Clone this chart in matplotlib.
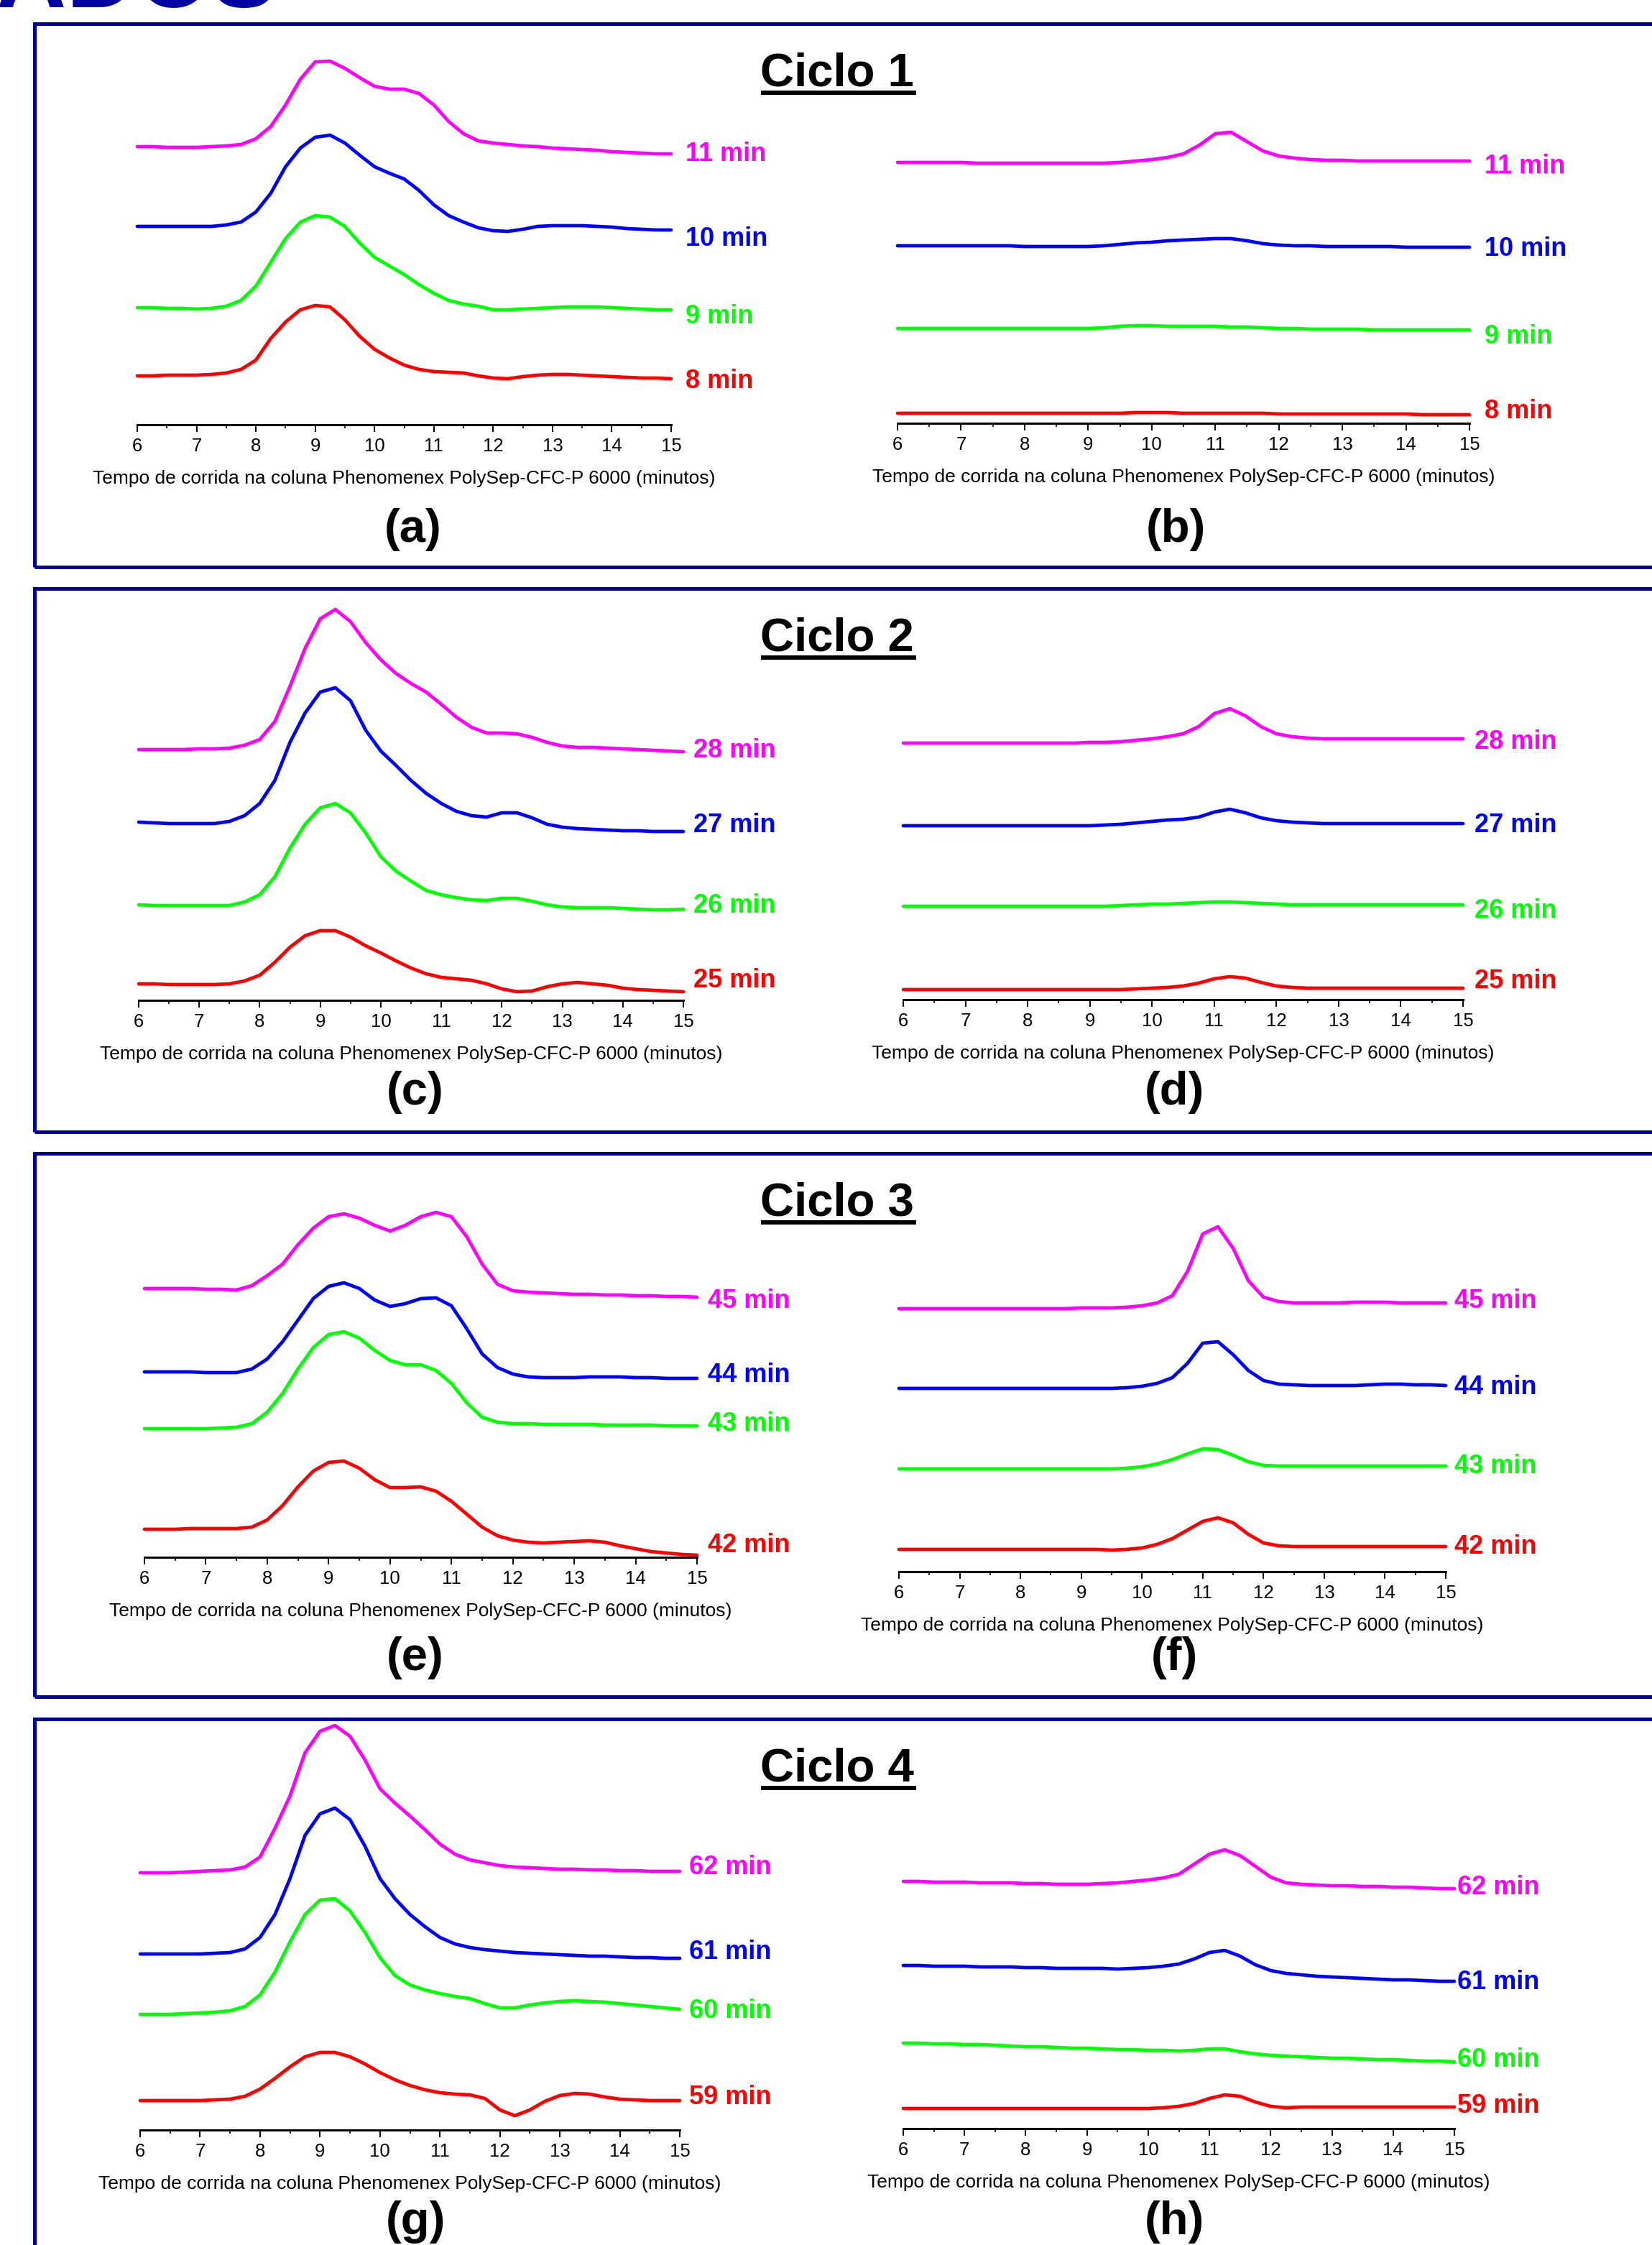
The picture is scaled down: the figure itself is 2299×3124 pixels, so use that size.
import numpy as np
import matplotlib
matplotlib.use('Agg')
import matplotlib.pyplot as plt
from matplotlib.patches import Rectangle
from matplotlib.lines import Line2D
from matplotlib.ticker import MultipleLocator

plt.rcParams['font.family'] = ['Liberation Sans', 'DejaVu Sans']

W, H = 2299, 3124

# tempo de corrida (minutos), amostrado a cada 0.25 min
tempo = np.arange(6, 15.001, 0.25)

# sinais (altura acima do eixo, unidades arbitrarias)
a_11 = [387, 387, 386, 386, 386, 387, 388, 390, 398, 415, 445, 481, 505, 506, 496, 483, 471, 467, 467, 461,
        445, 422, 405, 395, 392, 390, 388, 387, 385, 384, 383, 382, 380, 379, 378, 377, 377]
a_10 = [276, 276, 276, 276, 276, 276, 278, 282, 296, 322, 359, 385, 400, 403, 392, 375, 359, 350, 342, 326,
        306, 291, 282, 274, 270, 269, 272, 276, 277, 277, 277, 276, 275, 273, 272, 271, 271]
a_9 = [163, 163, 162, 162, 161, 162, 165, 173, 193, 226, 259, 282, 291, 289, 276, 253, 233, 221, 209, 195,
       183, 173, 168, 165, 160, 160, 161, 162, 163, 164, 164, 164, 163, 162, 161, 160, 160]
a_8 = [68, 68, 69, 69, 69, 70, 72, 77, 90, 120, 143, 160, 166, 164, 146, 123, 105, 93, 83, 77,
       74, 73, 72, 68, 65, 64, 67, 69, 70, 70, 69, 68, 67, 66, 65, 65, 64]

b_11 = [363, 363, 363, 363, 363, 362, 362, 362, 362, 362, 362, 362, 362, 362, 363, 365, 367, 370, 375, 387,
        403, 405, 392, 379, 372, 369, 367, 366, 366, 365, 365, 365, 365, 365, 365, 365, 365]
b_10 = [247, 247, 247, 247, 247, 247, 247, 247, 246, 246, 246, 246, 246, 247, 249, 251, 252, 254, 255, 256,
        257, 257, 254, 250, 248, 247, 247, 246, 246, 246, 246, 246, 245, 245, 245, 245, 245]
b_9 = [132, 132, 132, 132, 132, 132, 132, 132, 132, 132, 132, 132, 132, 133, 135, 136, 136, 135, 135, 135,
       135, 134, 134, 133, 132, 132, 131, 131, 131, 131, 130, 130, 130, 130, 130, 130, 130]
b_8 = [14, 14, 14, 14, 14, 14, 14, 14, 14, 14, 14, 14, 14, 14, 14, 15, 15, 15, 14, 14,
       14, 14, 14, 14, 13, 13, 13, 13, 13, 13, 13, 13, 13, 12, 12, 12, 12]

c_28 = [349, 349, 349, 349, 350, 350, 351, 355, 363, 388, 437, 490, 531, 544, 527, 498, 474, 455, 441, 429,
        412, 394, 380, 372, 372, 371, 366, 359, 354, 352, 352, 351, 350, 349, 348, 347, 346]
c_27 = [248, 247, 246, 246, 246, 246, 249, 257, 274, 306, 359, 400, 429, 435, 417, 376, 347, 327, 306, 288,
        274, 263, 257, 255, 261, 261, 254, 245, 241, 239, 238, 237, 236, 236, 235, 235, 235]
c_26 = [133, 132, 132, 132, 132, 132, 132, 137, 147, 172, 212, 245, 268, 274, 261, 233, 200, 180, 166, 153,
        147, 143, 140, 139, 142, 142, 138, 133, 130, 129, 129, 129, 128, 127, 126, 126, 127]
c_25 = [23, 23, 22, 22, 22, 22, 23, 27, 35, 53, 74, 90, 97, 97, 88, 76, 66, 55, 45, 37,
        32, 30, 28, 23, 16, 12, 13, 19, 23, 25, 23, 21, 17, 15, 14, 13, 12]

d_28 = [357, 357, 357, 357, 357, 357, 357, 357, 357, 357, 357, 357, 358, 358, 359, 361, 363, 366, 370, 380,
        398, 405, 395, 380, 370, 366, 364, 363, 363, 363, 363, 363, 363, 363, 363, 363, 363]
d_27 = [242, 242, 242, 242, 242, 242, 242, 242, 242, 242, 242, 242, 242, 243, 244, 246, 248, 250, 251, 254,
        261, 265, 260, 253, 249, 247, 246, 245, 245, 245, 245, 245, 245, 245, 245, 245, 245]
d_26 = [130, 130, 130, 130, 130, 130, 130, 130, 130, 130, 130, 130, 130, 130, 131, 132, 133, 133, 134, 135,
        136, 136, 135, 134, 133, 132, 132, 132, 132, 132, 132, 132, 132, 132, 132, 132, 132]
d_25 = [14, 14, 14, 14, 14, 14, 14, 14, 14, 14, 14, 14, 14, 14, 14, 15, 16, 17, 19, 23,
        29, 32, 30, 24, 19, 17, 16, 16, 16, 16, 16, 16, 16, 16, 16, 16, 16]

e_45 = [374, 374, 374, 374, 373, 373, 372, 378, 392, 408, 435, 458, 474, 478, 472, 462, 454, 462, 474, 480,
        474, 446, 408, 380, 371, 369, 368, 367, 366, 366, 365, 365, 364, 364, 363, 363, 362]
e_44 = [258, 258, 258, 258, 257, 257, 257, 262, 276, 300, 330, 360, 377, 382, 374, 358, 349, 353, 360, 361,
        350, 318, 283, 264, 255, 251, 250, 250, 250, 251, 251, 251, 250, 250, 249, 249, 249]
e_43 = [179, 179, 179, 179, 179, 180, 181, 186, 202, 228, 262, 292, 310, 314, 305, 288, 274, 268, 268, 260,
        242, 215, 195, 188, 186, 186, 185, 185, 185, 185, 184, 184, 184, 184, 183, 183, 183]
e_42 = [39, 39, 39, 40, 40, 40, 40, 42, 52, 72, 98, 120, 132, 134, 124, 108, 97, 97, 98, 92,
        78, 60, 42, 30, 24, 21, 20, 21, 22, 23, 21, 16, 12, 8, 6, 4, 3]

f_45 = [366, 366, 366, 366, 366, 366, 366, 366, 366, 366, 366, 366, 367, 367, 367, 368, 370, 374, 384, 418,
        470, 480, 450, 405, 382, 376, 374, 374, 374, 374, 375, 375, 375, 374, 374, 374, 374]
f_44 = [255, 255, 255, 255, 255, 255, 255, 255, 255, 255, 255, 255, 255, 255, 255, 256, 258, 262, 270, 290,
        318, 320, 302, 280, 266, 261, 260, 259, 259, 259, 259, 260, 261, 261, 260, 260, 259]
f_43 = [143, 143, 143, 143, 143, 143, 143, 143, 143, 143, 143, 143, 143, 143, 143, 144, 146, 150, 156, 164,
        171, 170, 162, 153, 148, 147, 147, 147, 147, 147, 147, 147, 147, 147, 147, 147, 147]
f_42 = [31, 31, 31, 31, 31, 31, 31, 31, 31, 31, 31, 31, 31, 31, 30, 31, 33, 38, 46, 58,
        70, 75, 68, 52, 40, 36, 35, 35, 35, 35, 35, 35, 35, 35, 35, 35, 35]

g_62 = [358, 358, 358, 359, 360, 361, 362, 366, 380, 420, 465, 525, 555, 563, 548, 515, 475, 455, 437, 418,
        398, 384, 376, 372, 368, 366, 365, 364, 363, 363, 362, 362, 361, 361, 360, 360, 360]
g_61 = [245, 245, 245, 245, 245, 246, 247, 252, 268, 300, 350, 410, 440, 448, 432, 395, 350, 322, 300, 283,
        268, 259, 254, 251, 249, 247, 246, 245, 244, 243, 242, 242, 241, 240, 240, 239, 239]
g_60 = [161, 161, 161, 162, 163, 164, 166, 172, 188, 220, 262, 300, 320, 322, 305, 275, 240, 215, 202, 195,
        190, 186, 183, 176, 170, 170, 174, 177, 179, 180, 179, 178, 176, 174, 172, 170, 168]
g_59 = [41, 41, 41, 41, 41, 42, 43, 47, 57, 72, 88, 102, 108, 108, 102, 92, 80, 70, 62, 56,
        52, 50, 49, 44, 28, 20, 28, 40, 48, 51, 50, 46, 43, 42, 41, 41, 41]

h_62 = [344, 344, 343, 343, 343, 342, 342, 342, 341, 341, 340, 340, 340, 341, 342, 344, 346, 349, 354, 368,
        382, 388, 380, 365, 350, 342, 340, 339, 338, 338, 337, 337, 336, 336, 335, 334, 334]
h_61 = [227, 227, 226, 226, 226, 225, 225, 225, 224, 224, 223, 223, 223, 223, 222, 223, 224, 226, 229, 236,
        245, 248, 240, 228, 220, 216, 214, 212, 211, 210, 209, 208, 207, 207, 206, 205, 205]
h_60 = [119, 119, 118, 118, 117, 117, 116, 115, 114, 114, 113, 112, 112, 111, 110, 110, 109, 109, 108, 109,
        111, 111, 107, 104, 102, 101, 100, 99, 98, 98, 97, 96, 96, 95, 94, 94, 93]
h_59 = [28, 28, 28, 28, 28, 28, 28, 28, 28, 28, 28, 28, 28, 28, 28, 28, 28, 29, 31, 35,
        42, 47, 45, 37, 31, 29, 30, 30, 30, 30, 30, 30, 30, 30, 30, 30, 30]

cores = ['#FF00FF', '#0000FF', '#00FF00', '#FF0000']

# painel: (letra, x do 6, x do 15, y do eixo, curvas, rotulos, alturas dos rotulos, x dos rotulos)
paineis = [
    ('a', 191, 934, 591, [a_11, a_10, a_9, a_8], ['11 min', '10 min', '9 min', '8 min'], [377, 259, 151, 60], 15.24),
    ('b', 1249, 2045, 589, [b_11, b_10, b_9, b_8], ['11 min', '10 min', '9 min', '8 min'], [357, 242, 121, 16], 15.24),
    ('c', 193, 951, 1392, [c_28, c_27, c_26, c_25], ['28 min', '27 min', '26 min', '25 min'], [347, 243, 131, 27], 15.17),
    ('d', 1257, 2036, 1391, [d_28, d_27, d_26, d_25], ['28 min', '27 min', '26 min', '25 min'], [359, 243, 124, 26], 15.18),
    ('e', 201, 970, 2167, [e_45, e_44, e_43, e_42], ['45 min', '44 min', '43 min', '42 min'], [356, 253, 185, 17], 15.17),
    ('f', 1251, 2012, 2187, [f_45, f_44, f_43, f_42], ['45 min', '44 min', '43 min', '42 min'], [376, 257, 147, 35], 15.14),
    ('g', 195, 946, 2964, [g_62, g_61, g_60, g_59], ['62 min', '61 min', '60 min', '59 min'], [366, 247, 165, 45], 15.15),
    ('h', 1257, 2024, 2962, [h_62, h_61, h_60, h_59], ['62 min', '61 min', '60 min', '59 min'], [336, 203, 95, 31], 15.05),
]

letra_pos = {'a': (575, 737), 'b': (1636, 737), 'c': (578, 1520), 'd': (1634, 1520),
             'e': (578, 2307), 'f': (1634, 2307), 'g': (578, 3092), 'h': (1634, 3092)}

TOPO = 600

fig = plt.figure(figsize=(W / 100, H / 100), dpi=100)

# molduras azuis de cada ciclo
for topo, base in [(33, 788.5), (819, 1574.5), (1604.5, 2360.5), (2391.5, 3300)]:
    fig.add_artist(Rectangle((48 / W, 1 - base / H), 3000 / W, (base - topo) / H, transform=fig.transFigure,
                             fill=False, edgecolor='#00009C', linewidth=3.6))

# titulo da secao, cortado no topo como no original
fig.text(384 / W, 1 - 10 / H, 'RESULTADOS', ha='right', va='baseline', fontsize=97,
         fontweight='bold', color='#0000A0')

for i, topo in enumerate([33, 819, 1604.5, 2391.5]):
    fig.text(1165 / W, 1 - (topo + 87) / H, 'Ciclo %d' % (i + 1), ha='center', va='baseline',
             fontsize=47, fontweight='bold')
    yl = 1 - (topo + 96) / H
    fig.add_artist(Line2D([1062 / W, 1272 / W], [yl, yl], transform=fig.transFigure, color='black', linewidth=4.3))

for letra, x6, x15, yax, curvas, rotulos, alt_rot, x_rot in paineis:
    ax = fig.add_axes([x6 / W, 1 - yax / H, (x15 - x6) / W, TOPO / H])
    ax.patch.set_visible(False)
    for y, cor in zip(curvas, cores):
        ax.plot(tempo, y, color=cor, linewidth=3.4, solid_joinstyle='round', solid_capstyle='round',
                clip_on=False)
    for txt, hy, cor in zip(rotulos, alt_rot, cores):
        ax.text(x_rot, hy, txt, color=cor, fontsize=26, fontweight='bold', ha='left', va='center')
    ax.set_xlim(6, 15)
    ax.set_ylim(0, TOPO)
    for s in ['left', 'right', 'top']:
        ax.spines[s].set_visible(False)
    ax.spines['bottom'].set_linewidth(2.2)
    ax.set_yticks([])
    ax.xaxis.set_major_locator(MultipleLocator(1))
    ax.xaxis.set_minor_locator(MultipleLocator(0.5))
    ax.tick_params(axis='x', which='major', direction='out', length=7.2, width=1.4, labelsize=18.5, pad=6)
    ax.tick_params(axis='x', which='minor', direction='out', length=3.6, width=1.2)
    ax.set_xlabel('Tempo de corrida na coluna Phenomenex PolySep-CFC-P 6000 (minutos)', fontsize=19,
                  va='center')
    ax.xaxis.set_label_coords(0.5, -75 / TOPO)
    lx, ly = letra_pos[letra]
    fig.text(lx / W, 1 - ly / H, '(%s)' % letra, ha='center', va='center', fontsize=47, fontweight='bold')

fig.savefig('out.png', dpi=100)
